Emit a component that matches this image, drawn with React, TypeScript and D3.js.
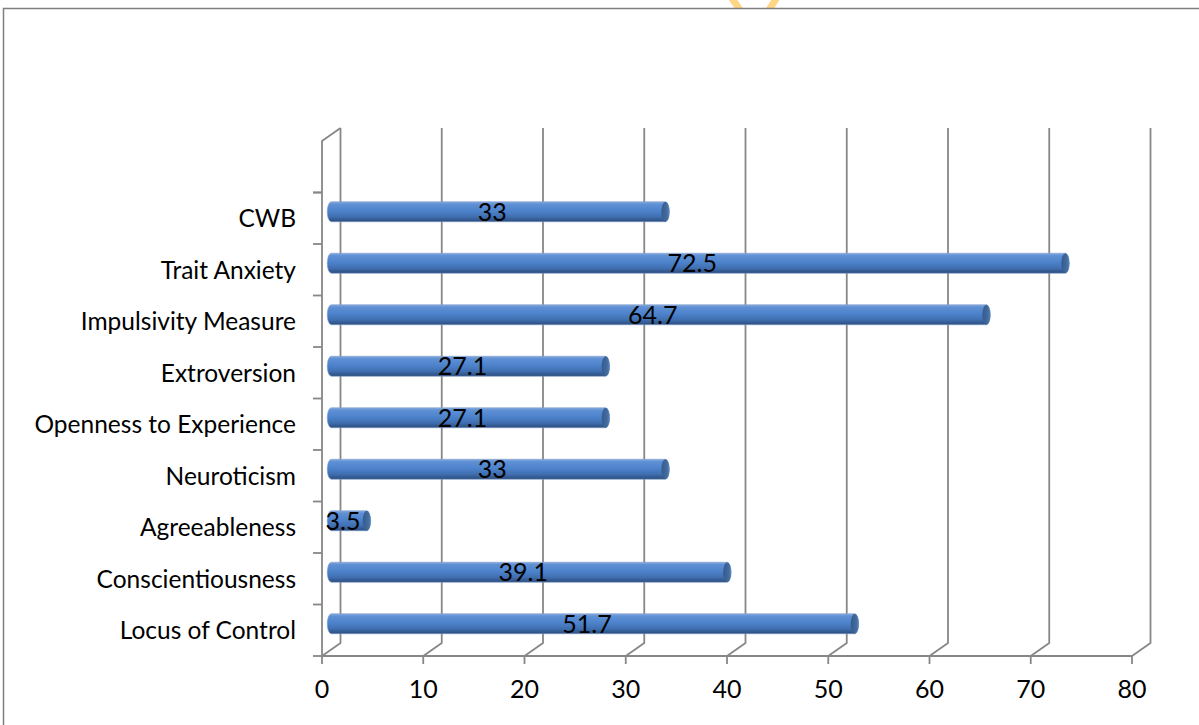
import React from 'react';
import { scaleLinear, scaleBand } from 'd3';

const categories = [
  'Locus of Control',
  'Conscientiousness',
  'Agreeableness',
  'Neuroticism',
  'Openness to Experience',
  'Extroversion',
  'Impulsivity Measure',
  'Trait Anxiety',
  'CWB'
];
const values = [51.7, 39.1, 3.5, 33, 27.1, 27.1, 64.7, 72.5, 33];
const xTicks = [0, 10, 20, 30, 40, 50, 60, 70, 80];

const WIDTH = 1199;
const HEIGHT = 725;
const DX = 18.5;
const DY = -13;
const FONT = 'Lato, "DejaVu Sans", sans-serif';
const GRID = '#878787';

const App = () => {
  const x = scaleLinear().domain([0, 80]).range([322, 1132]);
  // the top slot of the axis stays empty, as in the original
  const y = scaleBand()
    .domain([...categories, ''])
    .range([656, 141])
    .padding(0);
  const bw = y.bandwidth();
  const ry = 10;
  const rx = 4;
  const y0 = 656;
  const yTop = 141;
  const bounds = y.domain().map(d => y(d) as number).concat([yTop]);

  return (
    <svg
      width={WIDTH}
      height={HEIGHT}
      style={{ position: 'absolute', left: 0, top: 0 }}
    >
      <defs>
        <linearGradient id="cyl" x1="0" y1="0" x2="0" y2="1">
          <stop offset="0" stopColor="#86aade" />
          <stop offset="0.12" stopColor="#5f90d4" />
          <stop offset="0.45" stopColor="#4d83cc" />
          <stop offset="0.75" stopColor="#406fb0" />
          <stop offset="1" stopColor="#2b4c7c" />
        </linearGradient>
        <linearGradient id="cap" x1="0" y1="0" x2="1" y2="0">
          <stop offset="0" stopColor="#365a8e" />
          <stop offset="0.7" stopColor="#436c9c" />
          <stop offset="1" stopColor="#5a86bf" />
        </linearGradient>
        <clipPath id="top">
          <rect x={0} y={0} width={WIDTH} height={8} />
        </clipPath>
      </defs>
      <rect x={0} y={0} width={WIDTH} height={HEIGHT} fill="#fff" />

      {/* watermark fragment */}
      <g clipPath="url(#top)" stroke="#ffd586" strokeWidth={7}>
        <line x1={729} y1={-6} x2={740} y2={10} />
        <line x1={779} y1={-6} x2={769} y2={10} />
      </g>

      <rect
        x={3.5}
        y={8.5}
        width={WIDTH + 20}
        height={HEIGHT + 20}
        fill="none"
        stroke="#7f7f7f"
        strokeWidth={1.5}
      />

      {/* back wall gridlines and floor */}
      <g stroke={GRID} strokeWidth={1.8} fill="none">
        {xTicks.map(t => (
          <path
            key={t}
            d={`M${x(t)},${y0} L${x(t) + DX},${y0 + DY} L${x(t) + DX},${yTop + DY}`}
          />
        ))}
        <line x1={x(0)} y1={y0} x2={x(80)} y2={y0} />
        <path d={`M${x(0) + DX},${yTop + DY} L${x(0)},${yTop} L${x(0)},${y0}`} />
        {xTicks.map(t => (
          <line key={'t' + t} x1={x(t)} y1={y0} x2={x(t)} y2={y0 + 8} />
        ))}
        {bounds.map((b, i) => (
          <line key={'b' + i} x1={x(0) - 9} y1={b + bw} x2={x(0)} y2={b + bw} />
        ))}
      </g>

      {/* cylinders */}
      {categories.map((c, i) => {
        const cy = (y(c) as number) + bw / 2 + DY / 2;
        const x0 = x(0) + DX / 2;
        const x1 = x(values[i]) + DX / 2;
        const top = cy - ry;
        const bot = cy + ry;
        return (
          <g key={c}>
            <path
              d={`M${x0},${top} L${x1},${top} A${rx},${ry} 0 0 1 ${x1},${bot} L${x0},${bot} A${rx},${ry} 0 0 1 ${x0},${top} Z`}
              fill="url(#cyl)"
              stroke="#7d9ccb"
              strokeWidth={0.6}
            />
            <ellipse cx={x1} cy={cy} rx={rx} ry={ry} fill="url(#cap)" />
          </g>
        );
      })}

      {/* value labels */}
      {categories.map((c, i) => {
        const cy = (y(c) as number) + bw / 2 + DY / 2;
        const mid = (x(0) + x(values[i])) / 2 + DX / 2 - 6;
        return (
          <text
            key={'v' + c}
            x={mid}
            y={cy + 9}
            textAnchor="middle"
            fontFamily={FONT}
            fontSize={25}
            fill="#000"
          >
            {values[i]}
          </text>
        );
      })}

      {/* category labels */}
      {categories.map(c => (
        <text
          key={'c' + c}
          x={296}
          y={(y(c) as number) + bw / 2 + 9}
          textAnchor="end"
          fontFamily={FONT}
          fontSize={24.5}
          fill="#000"
        >
          {c}
        </text>
      ))}

      {/* x tick labels */}
      {xTicks.map(t => (
        <text
          key={'x' + t}
          x={x(t)}
          y={698}
          textAnchor="middle"
          fontFamily={FONT}
          fontSize={25}
          fill="#000"
        >
          {t}
        </text>
      ))}
    </svg>
  );
};

export default App;
